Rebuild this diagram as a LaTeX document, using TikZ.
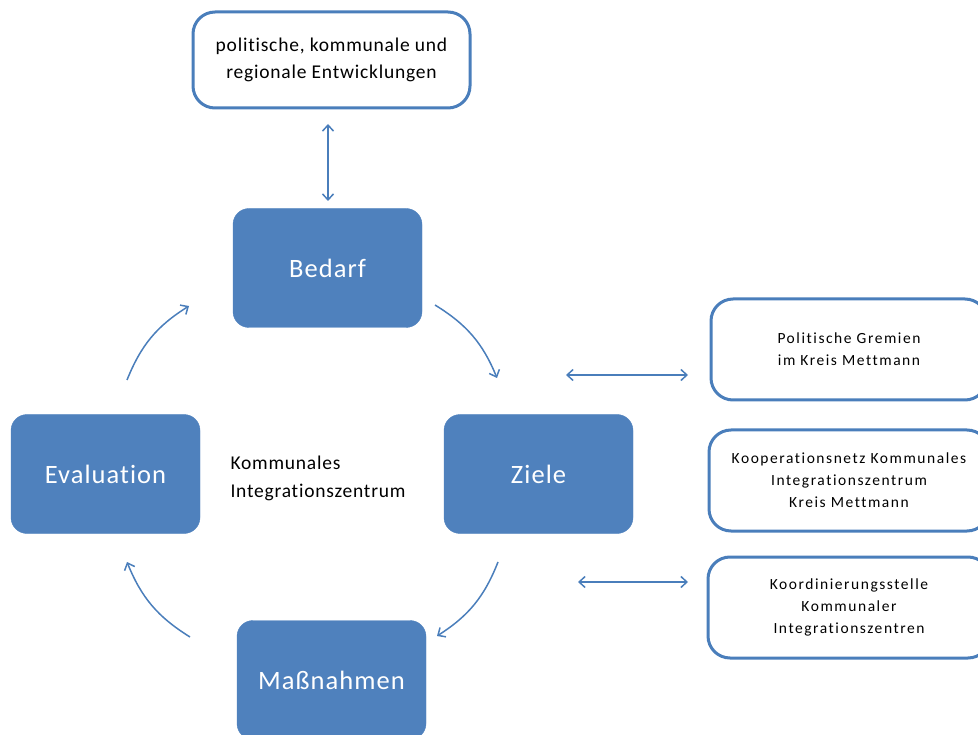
\documentclass[tikz,border=0pt]{standalone}
\usepackage{fontspec}
\setmainfont{Carlito}[Ligatures=NoCommon]
\newfontfamily\widefont{Carlito}[LetterSpace=4, Ligatures=NoCommon]
\newfontfamily\spacedfont{Carlito}[LetterSpace=10, Ligatures=NoCommon]
\usepackage{tikz}
\usetikzlibrary{arrows.meta}
\definecolor{kiblue}{HTML}{4F81BD}
\definecolor{kiline}{HTML}{4A7EBB}

\begin{document}
\begin{tikzpicture}
[
    x = 1pt, y = -1pt,
    phase/.style = {fill = kiblue, draw = kiblue, rounded corners = 16pt, text = white,
                    minimum width = 189pt, minimum height = 119pt, font = \widefont\fontsize{26.5}{30}\selectfont},
    partner/.style = {draw = kiline, line width = 3pt, rounded corners = 22pt, fill = white, align = center},
    flow/.style = {draw = kiline, line width = 1.5pt, -{Straight Barb[length=6pt,width=11pt]}},
    link/.style = {draw = kiline, line width = 1.5pt, {Straight Barb[length=6pt,width=11pt]}-{Straight Barb[length=6pt,width=11pt]}}]

\useasboundingbox (0,0) rectangle (978,735);

% Kreislauf
\node [phase] (bedarf) at (327.5,268) {Bedarf};
\node [phase] (ziele) at (538.5,474) {Ziele};
\node [phase] (massnahmen) at (331.5,680) {Maßnahmen};
\node [phase] (evaluation) at (105.5,474) {Evaluation};

\node [align = left, font = \widefont\fontsize{19.5}{28}\selectfont, anchor = west] (zentrum) at (227,478)
    {Kommunales\\Integrationszentrum};

% Partner
\node [partner, minimum width = 277pt, minimum height = 96pt, font = \widefont\fontsize{19.5}{28}\selectfont] (entwicklung) at (331.5,60)
    {\raisebox{-5pt}{\shortstack{politische, kommunale und\\[8pt]regionale Entwicklungen}}};
\node [partner, minimum width = 276pt, minimum height = 101pt, font = \spacedfont\fontsize{15.5}{22}\selectfont] (gremien) at (849,349.5)
    {Politische Gremien\\im Kreis Mettmann};
\node [partner, minimum width = 280pt, minimum height = 101pt, font = \spacedfont\fontsize{15.5}{22}\selectfont] (netz) at (849,480.5)
    {Kooperationsnetz Kommunales\\Integrationszentrum\\Kreis Mettmann};
\node [partner, minimum width = 282pt, minimum height = 101pt, font = \spacedfont\fontsize{15.5}{22}\selectfont] (stelle) at (849,607.5)
    {Koordinierungsstelle\\Kommunaler\\Integrationszentren};

% Pfeilenden
\coordinate (b1) at (435,305);
\coordinate (z0) at (497,378);
\coordinate (z1) at (498,562);
\coordinate (m0) at (437,636);
\coordinate (m1) at (190,637);
\coordinate (e0) at (127,562);
\coordinate (e1) at (127,380);
\coordinate (b0) at (189,306);
\coordinate (t0) at (328,124);
\coordinate (t1) at (328,201);
\coordinate (g0) at (566,375);
\coordinate (g1) at (688,375);
\coordinate (s0) at (578,582);
\coordinate (s1) at (688,582);

\draw [flow] (b1) to [bend left = 18] (z0);
\draw [flow] (z1) to [bend left = 18] (m0);
\draw [flow] (m1) to [bend left = 18] (e0);
\draw [flow] (e1) to [bend left = 18] (b0);
\draw [link] (t0) -- (t1);
\draw [link] (g0) -- (g1);
\draw [link] (s0) -- (s1);

\end{tikzpicture}
\end{document}
